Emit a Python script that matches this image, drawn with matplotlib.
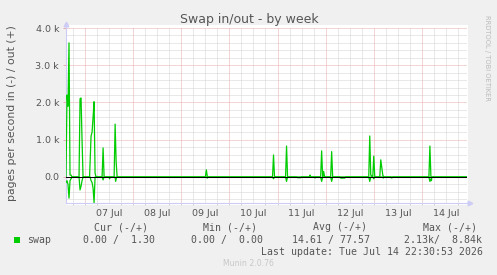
import numpy as np
import matplotlib
matplotlib.use("Agg")
import matplotlib.pyplot as plt
from matplotlib.patches import Rectangle

# hours since Mon Jul 06 14:30 (left edge of the graph), 200 h shown
day_labels = ["07 Jul", "08 Jul", "09 Jul", "10 Jul", "11 Jul", "12 Jul", "13 Jul", "14 Jul"]
first_midnight = 9.5

# swap out (+), in thousands of pages per second
out_hours = [0, 0.5, 1, 1.5, 2, 2.5, 3,
             6.5, 7, 7.5, 8, 8.5,
             11.75, 12.5, 13, 13.5, 14, 14.5, 15,
             18, 18.5, 19,
             24, 24.5, 25, 25.5,
             69.5, 70, 70.5,
             103, 103.5, 104,
             109.5, 110, 110.5,
             121.5, 121.75, 122,
             127, 127.5, 128, 128.5, 129,
             132, 132.5, 133,
             151, 151.5, 152,
             153, 153.5, 154,
             156.5, 157, 157.5, 158, 158.5,
             181, 181.5, 182,
             200]
out_vals = [0, 2.2, 1.9, 3.6, 0.05, 0.05, 0,
            0, 2.1, 2.12, 1.0, 0,
            0, 1.1, 1.2, 1.6, 2.02, 0.1, 0,
            0, 0.78, 0,
            0, 1.42, 0.41, 0,
            0, 0.19, 0,
            0, 0.59, 0,
            0, 0.83, 0,
            0, 0.05, 0,
            0, 0.7, 0, 0.15, 0,
            0, 0.68, 0,
            0, 1.1, 0.05,
            0, 0.56, 0,
            0, 0.46, 0.25, 0.05, 0,
            0, 0.83, 0,
            0]

# swap in (-), drawn below zero
in_hours = [0, 0.5, 1, 1.5, 2, 2.5, 3,
            6.5, 7, 7.5, 8, 8.5,
            12, 12.5, 13, 13.5, 14, 14.5,
            18, 18.5, 19,
            21.5, 21.75, 22,
            24.5, 24.75, 25.25,
            70, 70.5, 71,
            103, 103.5, 104,
            109.5, 110, 110.5,
            115, 115.5, 117, 117.5,
            124, 124.25, 124.5,
            127, 127.5, 128,
            132, 132.5, 133,
            136.5, 137, 139, 139.5,
            151, 151.5, 152,
            153, 153.5, 154,
            158, 158.25, 158.5,
            162, 162.5, 163,
            181, 181.5, 182, 182.25, 182.5,
            200]
in_vals = [0.15, 0.1, 0.2, 0.57, 0.1, 0.05, 0,
           0, 0.35, 0.25, 0.1, 0,
           0, 0.1, 0.15, 0.3, 0.69, 0,
           0, 0.08, 0,
           0, 0.05, 0,
           0, 0.12, 0,
           0, 0.03, 0,
           0, 0.05, 0,
           0, 0.12, 0,
           0, 0.02, 0.02, 0,
           0, 0.03, 0,
           0, 0.12, 0,
           0, 0.12, 0,
           0, 0.03, 0.03, 0,
           0, 0.12, 0,
           0, 0.05, 0,
           0, 0.03, 0,
           0, 0.03, 0,
           0, 0.12, 0.05, 0.1, 0,
           0]

y_ticks = [0, 1, 2, 3, 4]
y_labels = ["0.0", "1.0 k", "2.0 k", "3.0 k", "4.0 k"]

headers = ["Cur (-/+)", "Min (-/+)", "Avg (-/+)", "Max (-/+)"]
values = ["0.00 /  1.30", "0.00 /  0.00", "14.61 / 77.57", "2.13k/  8.84k"]

W, H = 497, 275
GREEN = "#00CC00"
TXT = "#555555"
AXC = "#CCCCF6"
MAJ = "#EBACAC"
MIN = "#D2D2D2"


def fx(x):
    return x / W


def fy(y):
    return 1 - y / H


fig = plt.figure(figsize=(W / 100, H / 100), dpi=100, facecolor="#F0F0F0")
fig.patches.append(Rectangle((fx(65.5), fy(205)), (467.5 - 65.5) / W, 180 / H,
                             transform=fig.transFigure, facecolor="white",
                             edgecolor="none", zorder=-5))
ax = fig.add_axes([fx(66), fy(203), (467 - 66) / W, 175 / H])
ax.set_facecolor("white")
ax.set_xlim(0, 200)
ax.set_ylim(-0.70, 4.0)

# grid
for v in np.arange(-0.6, 4.01, 0.2):
    if abs(v - round(v)) < 1e-6:
        ax.axhline(v, color=MAJ, lw=0.72, ls=(0, (1, 1)), zorder=1)
    else:
        ax.axhline(v, color=MIN, lw=0.72, ls=(0, (1, 1)), zorder=1)
for h in np.arange(first_midnight - 6, 200, 6):
    if (h - first_midnight) % 24 == 0:
        ax.axvline(h, color=MAJ, lw=0.72, ls=(0, (1, 1)), zorder=1)
    else:
        ax.axvline(h, color=MIN, lw=0.72, ls=(0, (1, 1)), zorder=1)

ax.plot(out_hours, out_vals, color=GREEN, lw=0.9, zorder=3)
ax.plot(in_hours, -np.array(in_vals), color=GREEN, lw=0.9, zorder=3)
ax.axhline(0, color="black", lw=0.75, zorder=4)

for s in ["top", "right"]:
    ax.spines[s].set_visible(False)
for s in ["left", "bottom"]:
    ax.spines[s].set_color(AXC)
    ax.spines[s].set_linewidth(0.8)
ax.plot([0, 0], [1, 1.025], color=AXC, lw=0.8, transform=ax.transAxes, clip_on=False)
ax.plot([0], [1.022], marker="^", ms=3.3, color=AXC, mec=AXC,
        transform=ax.transAxes, clip_on=False)
ax.plot([1.0075], [0], marker=">", ms=3.3, color=AXC, mec=AXC,
        transform=ax.transAxes, clip_on=False)

ax.set_yticks(y_ticks)
ax.set_yticklabels(y_labels)
ax.set_xticks([first_midnight + 12 + 24 * i for i in range(len(day_labels))])
ax.set_xticklabels(day_labels)
ax.set_xticks(np.arange(first_midnight - 6, 200, 6), minor=True)
ax.tick_params(axis="y", length=2.2, width=0.7, color=MAJ, pad=2.8,
               labelsize=6.8, labelcolor=TXT)
ax.tick_params(axis="x", which="major", length=0, pad=4.5,
               labelsize=6.8, labelcolor=TXT)
ax.tick_params(axis="x", which="minor", length=1.6, width=0.7, color=MIN)

fig.text(fx(249), fy(19), "Swap in/out - by week", ha="center", va="center",
         fontsize=9, color=TXT)
fig.text(fx(12), fy(113), "pages per second in (-) / out (+)", rotation=90,
         ha="center", va="center", fontsize=7.8, color=TXT)
fig.text(fx(487), fy(15), "RRDTOOL / TOBI OETIKER", rotation=270,
         ha="center", va="top", fontsize=4.9, color="#BBBBBB")

mono = dict(family="DejaVu Sans Mono", fontsize=7.1, color=TXT, va="center")
for x, t in zip([94, 203, 313, 423], headers):
    fig.text(fx(x), fy(227.3), t, ha="left", **mono)
fig.patches.append(Rectangle((fx(14), fy(243)), 6 / W, 6 / H,
                             transform=fig.transFigure, facecolor=GREEN,
                             edgecolor="none"))
fig.text(fx(27), fy(240), "swap", ha="left", **mono)
for x, t in zip([83, 191, 292, 404], values):
    fig.text(fx(x), fy(240), t, ha="left", **mono)
fig.text(fx(483), fy(251.7), "Last update: Tue Jul 14 22:30:53 2026", ha="right", **mono)
fig.text(fx(248), fy(264), "Munin 2.0.76", ha="center", va="center",
         fontsize=5.6, color="#C8C8C8")

fig.savefig("out.png", dpi=100, facecolor=fig.get_facecolor())
